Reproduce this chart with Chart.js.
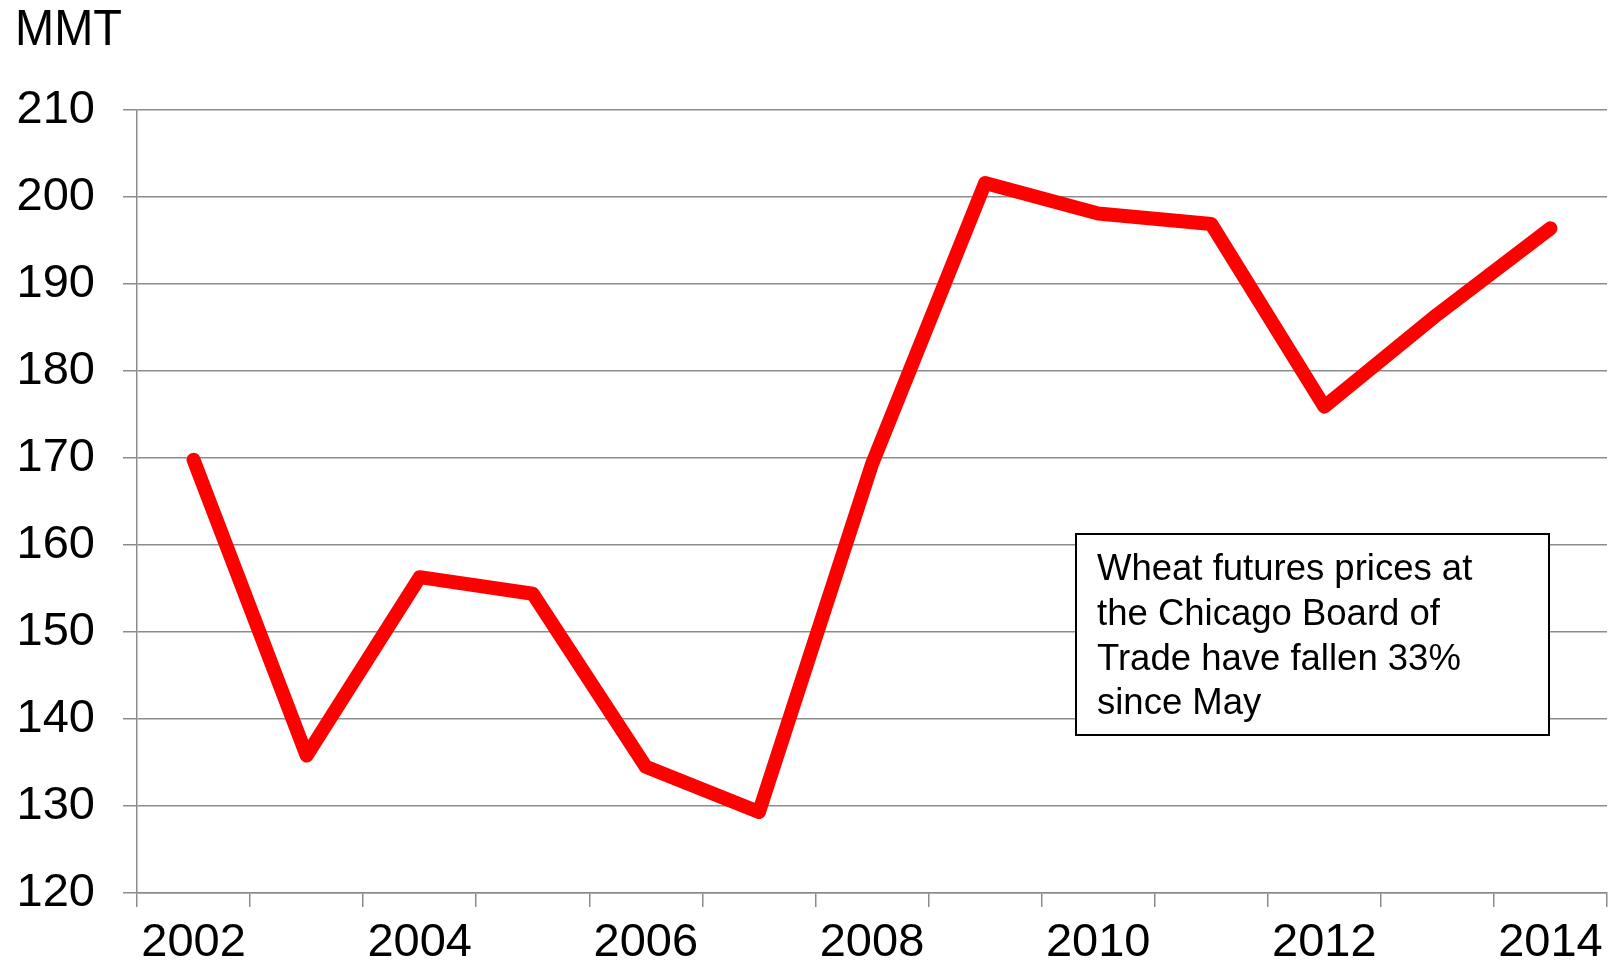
<!DOCTYPE html>
<html>
<head>
<meta charset="utf-8">
<style>
  html, body { margin: 0; padding: 0; background: #ffffff; }
  #wrap { position: relative; width: 1612px; height: 970px; }
  canvas { display: block; }
</style>
<script src="https://cdn.jsdelivr.net/npm/chart.js@4/dist/chart.umd.min.js"></script>
</head>
<body>
<div id="wrap"><canvas id="c" width="1612" height="970"></canvas></div>
<script>
// Yearly series, million metric tonnes
const years = ['2002','2003','2004','2005','2006','2007','2008','2009','2010','2011','2012','2013','2014'];
const values = [169.8, 135.8, 156.3, 154.4, 134.5, 129.3, 169.3, 201.6, 198.1, 196.9, 175.9, 186.5, 196.4];
const yTicks = [120, 130, 140, 150, 160, 170, 180, 190, 200, 210];
const unitLabel = 'MMT';
const noteLines = ['Wheat futures prices at', 'the Chicago Board of', 'Trade have fallen 33%', 'since May'];

const FONT = 'Liberation Sans, Arial, Helvetica, sans-serif';
const GRID = '#8c8c8c';

// Unit label above the value axis and the boxed note inside the plot
const extras = {
  id: 'extras',
  afterDraw(chart) {
    const ctx = chart.ctx;
    const area = chart.chartArea;
    ctx.save();
    ctx.fillStyle = '#000';
    ctx.textAlign = 'left';
    ctx.textBaseline = 'alphabetic';
    // slightly tall lettering
    ctx.save();
    ctx.translate(15, 45);
    ctx.scale(1, 1.08);
    ctx.font = '47px ' + FONT;
    ctx.fillText(unitLabel, 0, 0);
    ctx.restore();

    const bx = area.left + 939, by = area.top + 424, bw = 473, bh = 201;
    ctx.fillStyle = '#fff';
    ctx.fillRect(bx, by, bw, bh);
    ctx.strokeStyle = '#000';
    ctx.lineWidth = 2;
    ctx.strokeRect(bx, by, bw, bh);
    ctx.fillStyle = '#000';
    ctx.font = '36.5px ' + FONT;
    noteLines.forEach((t, i) => ctx.fillText(t, bx + 21, by + 46 + i * 44.8));
    ctx.restore();
  }
};

new Chart(document.getElementById('c'), {
  type: 'line',
  data: {
    labels: years,
    datasets: [{
      data: values,
      borderColor: '#ff0000',
      borderWidth: 14,
      borderCapStyle: 'round',
      borderJoinStyle: 'round',
      pointRadius: 0,
      tension: 0,
      fill: false
    }]
  },
  options: {
    responsive: false,
    animation: false,
    events: [],
    layout: { padding: { top: 110, right: 5, left: 0, bottom: 0 } },
    plugins: { legend: { display: false }, tooltip: { enabled: false } },
    scales: {
      x: {
        type: 'category',
        offset: true,
        grid: { offset: true, drawOnChartArea: false, drawTicks: true, tickLength: 14, color: GRID, lineWidth: 1.5 },
        border: { display: true, color: GRID, width: 1.5 },
        ticks: {
          autoSkip: false,
          maxRotation: 0,
          color: '#000',
          padding: 8,
          font: { family: FONT, size: 47 },
          callback: (v, i) => (i % 2 === 0 ? years[i] : '')
        },
        afterFit: s => { s.height = 77; }
      },
      y: {
        min: yTicks[0],
        max: yTicks[yTicks.length - 1],
        afterBuildTicks: s => { s.ticks = yTicks.map(v => ({ value: v })); },
        grid: { color: GRID, lineWidth: 1.5, tickLength: 14 },
        border: { display: true, color: GRID, width: 1.5 },
        ticks: {
          color: '#000',
          padding: 28,
          font: { family: FONT, size: 47 },
          callback: v => String(v)
        },
        afterFit: s => { s.width = 137; }
      }
    }
  },
  plugins: [extras]
});
</script>
</body>
</html>
